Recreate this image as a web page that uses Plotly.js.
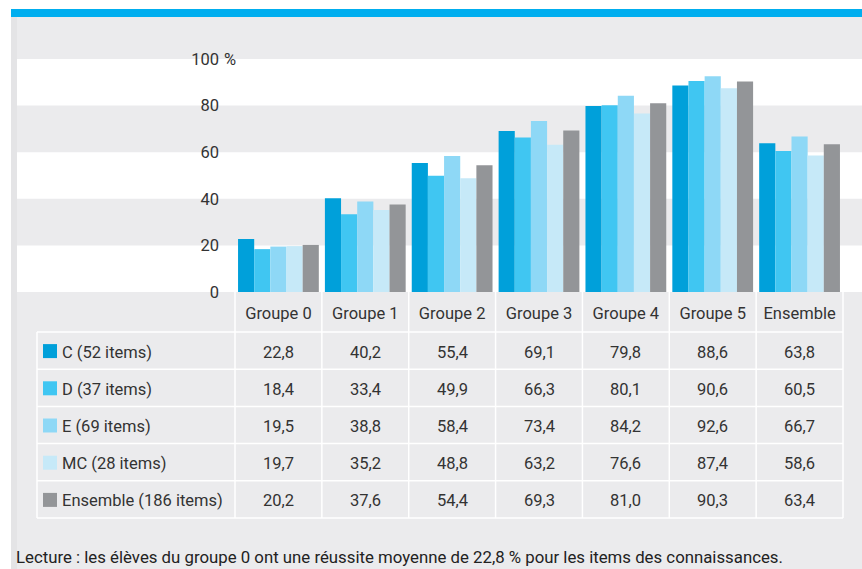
<!DOCTYPE html>
<html><head><meta charset="utf-8">
<script src="https://cdn.plot.ly/plotly-3.0.1.min.js"></script>
<style>html,body{margin:0;padding:0;background:#fff;}#chart{width:862px;height:569px;}</style>
</head><body><div id="chart"></div>
<script>
const categories = ["Groupe 0","Groupe 1","Groupe 2","Groupe 3","Groupe 4","Groupe 5","Ensemble"];
const seriesNames = ["C (52 items)","D (37 items)","E (69 items)","MC (28 items)","Ensemble (186 items)"];
const valuesC   = [22.8, 40.2, 55.4, 69.1, 79.8, 88.6, 63.8];
const valuesD   = [18.4, 33.4, 49.9, 66.3, 80.1, 90.6, 60.5];
const valuesE   = [19.5, 38.8, 58.4, 73.4, 84.2, 92.6, 66.7];
const valuesMC  = [19.7, 35.2, 48.8, 63.2, 76.6, 87.4, 58.6];
const valuesEns = [20.2, 37.6, 54.4, 69.3, 81.0, 90.3, 63.4];
const yTickVals = [0, 20, 40, 60, 80, 100];
const yTickText = ["0", "20", "40", "60", "80", "100"];
const footnote = "Lecture : les élèves du groupe 0 ont une réussite moyenne de 22,8 % pour les items des connaissances.";

const allSeries = [valuesC, valuesD, valuesE, valuesMC, valuesEns];
const colors = ["#00A0DA", "#40C6F2", "#8ED8F6", "#C6E9F8", "#939598"];
const FONT = "Roboto, sans-serif";
const TXT = "#333333";
const FS = 16.5;

// pixel geometry helpers
const W = 862, H = 569, ML = 17, MR = 0, MT = 59, MB = 277;
const PW = W - ML - MR, PH = H - MT - MB;
const px = x => (x - ML) / PW;
const py = y => (H - MB - y) / PH;
const AX0 = 235, AX1 = 843;
const dom = [px(AX0), px(AX1)];
const colX = k => dom[0] + (dom[1] - dom[0]) * k / categories.length;

const traces = allSeries.map((vals, i) => ({
  type: "bar", x: categories, y: vals, name: seriesNames[i],
  marker: {color: colors[i], line: {width: 0}}, hoverinfo: "skip"
}));

const shapes = [];
const annotations = [];
shapes.push({type:"rect", xref:"paper", yref:"paper", x0:px(0), x1:px(11), y0:py(H), y1:py(0), fillcolor:"#FFFFFF", line:{width:0}, layer:"below"});
shapes.push({type:"rect", xref:"paper", yref:"paper", x0:px(11), x1:px(17), y0:py(H), y1:py(17), fillcolor:"#E4E4E6", line:{width:0}, layer:"below"});
shapes.push({type:"rect", xref:"paper", yref:"paper", x0:px(0), x1:px(W), y0:py(9), y1:py(0), fillcolor:"#FFFFFF", line:{width:0}, layer:"below"});
shapes.push({type:"rect", xref:"paper", yref:"paper", x0:px(11), x1:px(W), y0:py(17), y1:py(9), fillcolor:"#00AEEF", line:{width:0}, layer:"below"});
[[0,20],[40,60],[80,100]].forEach(b => shapes.push({type:"rect", xref:"paper", yref:"y", x0:0, x1:1, y0:b[0], y1:b[1], fillcolor:"#FFFFFF", line:{width:0}, layer:"below"}));

const rowTop = 332, rowH = 37.2, nRows = seriesNames.length;
const tblLeft = 37;
const lineStyle = {color:"#FFFFFF", width:1.5};
for (let r = 0; r <= nRows; r++) {
  const yy = rowTop + r * rowH;
  shapes.push({type:"line", xref:"paper", yref:"paper", x0:px(tblLeft), x1:colX(categories.length), y0:py(yy), y1:py(yy), line:lineStyle});
}
shapes.push({type:"line", xref:"paper", yref:"paper", x0:px(tblLeft), x1:px(tblLeft), y0:py(rowTop), y1:py(rowTop + nRows*rowH), line:lineStyle});
for (let k = 0; k <= categories.length; k++) {
  shapes.push({type:"line", xref:"paper", yref:"paper", x0:colX(k), x1:colX(k), y0:py(292), y1:py(rowTop + nRows*rowH), line:lineStyle});
}
for (let r = 0; r < nRows; r++) {
  const cy = rowTop + r * rowH + rowH/2 + 0.5;
  shapes.push({type:"rect", xref:"paper", yref:"paper", x0:px(43), x1:px(57), y0:py(cy+7), y1:py(cy-7), fillcolor:colors[r], line:{width:0}});
  annotations.push({xref:"paper", yref:"paper", x:px(60), y:py(cy+1), xanchor:"left", yanchor:"middle", text:seriesNames[r], showarrow:false, font:{family:FONT, size:FS, color:TXT}});
  allSeries[r].forEach((v, c) => annotations.push({xref:"x", yref:"paper", x:categories[c], y:py(cy+1), xanchor:"center", yanchor:"middle", text:v.toFixed(1).replace(".", ","), showarrow:false, font:{family:FONT, size:FS, color:TXT}}));
}
annotations.push({xref:"paper", yref:"y", x:px(222), y:100, xanchor:"left", yanchor:"middle", text:"%", showarrow:false, font:{family:FONT, size:FS, color:TXT}});
annotations.push({xref:"paper", yref:"paper", x:px(14), y:py(557), xanchor:"left", yanchor:"middle", text:footnote, showarrow:false, font:{family:FONT, size:16.8, color:"#222222"}});

const layout = {
  width: W, height: H,
  margin: {l: ML, r: MR, t: MT, b: MB, pad: 0},
  paper_bgcolor: "#EBEBED", plot_bgcolor: "rgba(0,0,0,0)",
  showlegend: false,
  barmode: "group", bargap: 0.07, bargroupgap: 0,
  font: {family: FONT, size: FS, color: TXT},
  xaxis: {domain: dom, type: "category", showgrid: false, zeroline: false, showline: false, ticks: "",
          tickfont: {family: FONT, size: FS, color: TXT}, ticklabelstandoff: 9, fixedrange: true},
  yaxis: {range: [0, 100], tickvals: yTickVals, ticktext: yTickText, showgrid: false, zeroline: false, showline: false, ticks: "",
          tickfont: {family: FONT, size: FS, color: TXT}, ticklabelstandoff: 15, fixedrange: true},
  shapes: shapes, annotations: annotations
};
Plotly.newPlot("chart", traces, layout, {staticPlot: true, displayModeBar: false});
</script></body></html>
